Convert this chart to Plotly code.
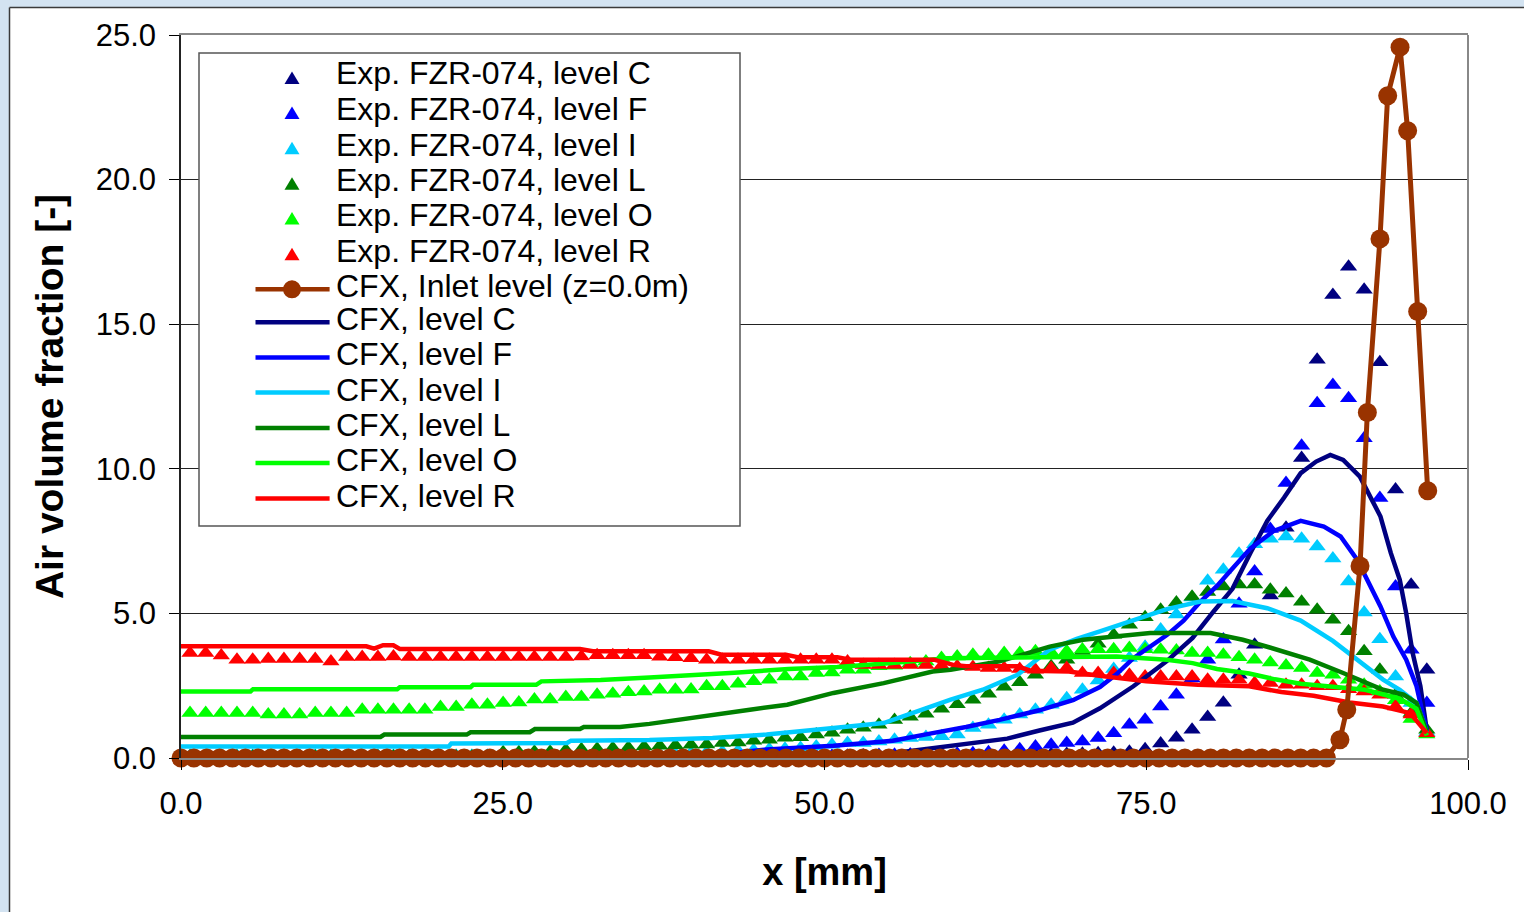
import plotly.graph_objects as go

# ---------------- data ----------------
exp_x = [0.70, 1.92, 3.13, 4.35, 5.57, 6.78, 8.00, 9.22, 10.43, 11.65,
         12.87, 14.08, 15.30, 16.51, 17.73, 18.95, 20.16, 21.38, 22.60, 23.81,
         25.03, 26.25, 27.46, 28.68, 29.90, 31.11, 32.33, 33.55, 34.76, 35.98,
         37.20, 38.41, 39.63, 40.84, 42.06, 43.28, 44.49, 45.71, 46.93, 48.14,
         49.36, 50.58, 51.79, 53.01, 54.23, 55.44, 56.66, 57.88, 59.09, 60.31,
         61.53, 62.74, 63.96, 65.17, 66.39, 67.61, 68.82, 70.04, 71.26, 72.47,
         73.69, 74.91, 76.12, 77.34, 78.56, 79.77, 80.99, 82.21, 83.42, 84.64,
         85.86, 87.07, 88.28, 89.50, 90.72, 91.93, 93.15, 94.37, 95.58, 96.80]

exp_C = [0.02, 0.02, 0.02, 0.02, 0.02, 0.02, 0.02, 0.02, 0.02, 0.02,
         0.02, 0.02, 0.02, 0.02, 0.02, 0.02, 0.02, 0.02, 0.02, 0.02,
         0.02, 0.02, 0.02, 0.02, 0.02, 0.02, 0.02, 0.02, 0.02, 0.02,
         0.03, 0.03, 0.03, 0.03, 0.03, 0.03, 0.03, 0.03, 0.03, 0.03,
         0.05, 0.05, 0.05, 0.06, 0.06, 0.07, 0.08, 0.08, 0.09, 0.10,
         0.10, 0.10, 0.11, 0.12, 0.12, 0.13, 0.14, 0.15, 0.16, 0.18,
         0.22, 0.30, 0.50, 0.70, 0.98, 1.42, 1.91, 2.88, 3.92, 5.62,
         7.96, 10.37, 13.77, 16.01, 16.99, 16.19, 13.68, 9.28, 5.99, 3.05]

exp_F = [0.03, 0.03, 0.03, 0.03, 0.03, 0.03, 0.03, 0.03, 0.03, 0.03,
         0.03, 0.03, 0.03, 0.03, 0.03, 0.03, 0.03, 0.03, 0.03, 0.03,
         0.03, 0.03, 0.03, 0.03, 0.03, 0.03, 0.03, 0.03, 0.03, 0.03,
         0.03, 0.03, 0.03, 0.03, 0.03, 0.03, 0.03, 0.03, 0.03, 0.05,
         0.06, 0.07, 0.08, 0.09, 0.10, 0.11, 0.12, 0.13, 0.14, 0.15,
         0.16, 0.20, 0.25, 0.30, 0.40, 0.46, 0.52, 0.57, 0.69, 0.86,
         1.15, 1.32, 1.78, 2.19, 2.75, 3.40, 4.10, 5.33, 6.45, 7.92,
         9.51, 10.80, 12.27, 12.90, 12.44, 11.06, 8.99, 5.93, 3.74, 1.90]

exp_I = [0.08, 0.08, 0.08, 0.08, 0.08, 0.08, 0.08, 0.08, 0.08, 0.08,
         0.08, 0.08, 0.08, 0.08, 0.08, 0.08, 0.08, 0.08, 0.08, 0.08,
         0.08, 0.08, 0.08, 0.08, 0.08, 0.08, 0.08, 0.08, 0.08, 0.08,
         0.12, 0.15, 0.17, 0.20, 0.22, 0.25, 0.27, 0.30, 0.32, 0.35,
         0.40, 0.46, 0.52, 0.52, 0.57, 0.63, 0.69, 0.73, 0.75, 0.81,
         1.04, 1.15, 1.32, 1.50, 1.67, 1.84, 2.07, 2.36, 2.68, 3.08,
         3.46, 3.85, 4.44, 4.96, 5.55, 6.13, 6.51, 7.06, 7.39, 7.58,
         7.66, 7.58, 7.31, 6.90, 6.10, 5.03, 4.11, 2.82, 1.90, 0.90]

exp_L = [0.05, 0.05, 0.05, 0.05, 0.05, 0.05, 0.05, 0.05, 0.05, 0.05,
         0.05, 0.05, 0.05, 0.05, 0.05, 0.05, 0.05, 0.05, 0.05, 0.05,
         0.20, 0.20, 0.22, 0.22, 0.28, 0.30, 0.32, 0.35, 0.36, 0.40,
         0.42, 0.44, 0.46, 0.47, 0.52, 0.54, 0.60, 0.63, 0.70, 0.72,
         0.81, 0.87, 0.98, 1.05, 1.15, 1.31, 1.43, 1.53, 1.70, 1.86,
         2.01, 2.22, 2.46, 2.62, 2.88, 3.17, 3.40, 3.70, 3.95, 4.26,
         4.61, 4.87, 5.13, 5.38, 5.58, 5.74, 5.93, 6.00, 6.00, 5.82,
         5.69, 5.40, 5.13, 4.78, 4.38, 3.69, 3.05, 2.19, 1.56, 0.98]

exp_O = [1.56, 1.56, 1.56, 1.56, 1.56, 1.50, 1.50, 1.50, 1.56, 1.56,
         1.56, 1.67, 1.67, 1.67, 1.67, 1.67, 1.76, 1.76, 1.84, 1.84,
         1.90, 1.92, 2.02, 2.02, 2.11, 2.11, 2.19, 2.22, 2.27, 2.30,
         2.36, 2.36, 2.37, 2.48, 2.48, 2.57, 2.65, 2.71, 2.82, 2.82,
         2.94, 2.96, 3.05, 3.05, 3.17, 3.19, 3.28, 3.34, 3.46, 3.51,
         3.57, 3.57, 3.63, 3.63, 3.69, 3.66, 3.69, 3.75, 3.76, 3.76,
         3.80, 3.76, 3.74, 3.72, 3.63, 3.63, 3.57, 3.48, 3.40, 3.30,
         3.20, 3.11, 2.94, 2.88, 2.71, 2.53, 2.30, 2.00, 1.35, 0.81]

exp_R = [3.63, 3.63, 3.54, 3.40, 3.40, 3.42, 3.42, 3.42, 3.42, 3.34,
         3.49, 3.49, 3.49, 3.51, 3.49, 3.49, 3.49, 3.49, 3.49, 3.49,
         3.49, 3.49, 3.49, 3.49, 3.49, 3.51, 3.55, 3.55, 3.55, 3.55,
         3.50, 3.48, 3.45, 3.40, 3.40, 3.40, 3.40, 3.40, 3.40, 3.40,
         3.40, 3.40, 3.34, 3.22, 3.22, 3.22, 3.22, 3.22, 3.19, 3.17,
         3.15, 3.11, 3.11, 3.08, 3.05, 3.11, 3.11, 2.94, 2.94, 2.94,
         2.88, 2.82, 2.82, 2.82, 2.82, 2.71, 2.71, 2.71, 2.59, 2.59,
         2.53, 2.53, 2.48, 2.48, 2.38, 2.30, 2.19, 1.78, 1.50, 0.86]

inlet_x = [0.0, 1.0, 2.0, 3.0, 4.0, 5.0, 6.0, 7.0, 8.0, 9.0,
           10.0, 11.0, 12.0, 13.0, 14.0, 15.0, 16.0, 17.0, 18.0, 19.0,
           20.0, 21.0, 22.0, 23.0, 24.0, 25.0, 26.0, 27.0, 28.0, 29.0,
           30.0, 31.0, 32.0, 33.0, 34.0, 35.0, 36.0, 37.0, 38.0, 39.0,
           40.0, 41.0, 42.0, 43.0, 44.0, 45.0, 46.0, 47.0, 48.0, 49.0,
           50.0, 51.0, 52.0, 53.0, 54.0, 55.0, 56.0, 57.0, 58.0, 59.0,
           60.0, 61.0, 62.0, 63.0, 64.0, 65.0, 66.0, 67.0, 68.0, 69.0,
           70.0, 71.0, 72.0, 73.0, 74.0, 75.0, 76.0, 77.0, 78.0, 79.0,
           80.0, 81.0, 82.0, 83.0, 84.0, 85.0, 86.0, 87.0, 88.0, 89.0,
           90.05, 90.58, 91.61, 92.18, 93.16, 93.76, 94.72, 95.31, 96.09, 96.87]
inlet_y = [0.0, 0.0, 0.0, 0.0, 0.0, 0.0, 0.0, 0.0, 0.0, 0.0,
           0.0, 0.0, 0.0, 0.0, 0.0, 0.0, 0.0, 0.0, 0.0, 0.0,
           0.0, 0.0, 0.0, 0.0, 0.0, 0.0, 0.0, 0.0, 0.0, 0.0,
           0.0, 0.0, 0.0, 0.0, 0.0, 0.0, 0.0, 0.0, 0.0, 0.0,
           0.0, 0.0, 0.0, 0.0, 0.0, 0.0, 0.0, 0.0, 0.0, 0.0,
           0.0, 0.0, 0.0, 0.0, 0.0, 0.0, 0.0, 0.0, 0.0, 0.0,
           0.0, 0.0, 0.0, 0.0, 0.0, 0.0, 0.0, 0.0, 0.0, 0.0,
           0.0, 0.0, 0.0, 0.0, 0.0, 0.0, 0.0, 0.0, 0.0, 0.0,
           0.0, 0.0, 0.0, 0.0, 0.0, 0.0, 0.0, 0.0, 0.0, 0.0,
           0.63, 1.67, 6.64, 11.95, 17.95, 22.90, 24.58, 21.69, 15.44, 9.24]

cfx_C_x = [0.0, 50.0, 55.0, 57.7, 61.5, 64.2, 66.7, 69.3, 71.4, 74.0, 76.6, 78.6, 80.2, 81.7,
           83.1, 84.4, 85.7, 87.0, 88.2, 89.3, 90.3, 91.6, 93.2, 94.0, 94.7, 95.2, 95.7, 96.3, 96.8]
cfx_C_y = [0.02, 0.05, 0.15, 0.30, 0.50, 0.67, 0.95, 1.22, 1.72, 2.48, 3.35, 4.15, 5.05, 5.85,
           7.10, 8.20, 9.00, 9.85, 10.25, 10.48, 10.31, 9.73, 8.35, 7.09, 6.16, 5.00, 3.63, 2.48, 0.95]

cfx_F_x = [0.0, 40.0, 43.0, 45.5, 50.7, 55.3, 58.4, 61.0, 63.6, 66.7, 69.3, 71.4, 72.7, 74.0, 76.6,
           77.9, 79.2, 80.5, 81.7, 83.1, 84.9, 87.0, 88.8, 90.1, 91.4, 93.2, 94.2, 95.2, 96.0, 96.8]
cfx_F_y = [0.05, 0.08, 0.18, 0.29, 0.42, 0.60, 0.86, 1.07, 1.32, 1.65, 2.00, 2.45, 2.90, 3.45, 4.25,
           4.75, 5.40, 5.95, 6.55, 7.25, 7.85, 8.20, 8.00, 7.66, 6.85, 5.24, 4.20, 3.40, 2.48, 0.92]

cfx_I_x = [0.0, 20.8, 21.0, 30.0, 30.3, 36.4, 41.3, 45.5, 50.7, 54.6, 57.2, 59.8, 62.3, 65.0, 67.5,
           69.6, 71.4, 74.0, 76.6, 79.2, 81.7, 84.4, 87.0, 89.5, 91.4, 93.4, 94.7, 96.0, 96.8]
cfx_I_y = [0.40, 0.40, 0.50, 0.52, 0.60, 0.62, 0.69, 0.81, 1.04, 1.21, 1.61, 2.02, 2.36, 2.88, 3.75,
           4.12, 4.38, 4.78, 5.15, 5.41, 5.43, 5.18, 4.75, 4.05, 3.40, 2.71, 2.36, 1.90, 0.88]

cfx_L_x = [0.0, 15.5, 15.8, 22.2, 22.5, 27.1, 27.5, 31.0, 31.3, 34.1, 36.4, 40.3, 44.2, 47.1, 50.7,
           54.6, 58.4, 59.8, 63.6, 67.5, 70.1, 71.4, 75.3, 80.0, 82.5, 84.6, 87.7, 90.3, 92.1, 93.4,
           95.0, 96.0, 96.8]
cfx_L_y = [0.73, 0.73, 0.81, 0.81, 0.89, 0.89, 1.00, 1.00, 1.07, 1.07, 1.18, 1.44, 1.67, 1.84, 2.25,
           2.59, 2.99, 3.05, 3.34, 3.85, 4.09, 4.15, 4.32, 4.32, 4.09, 3.82, 3.40, 2.94, 2.59, 2.36,
           2.19, 1.90, 0.90]

cfx_O_x = [0.0, 5.4, 5.6, 16.8, 17.0, 22.5, 22.7, 27.6, 28.0, 32.6, 36.4, 39.5, 43.0, 47.2, 51.0,
           55.0, 59.5, 72.7, 76.6, 78.6, 80.5, 83.0, 85.0, 87.0, 89.5, 92.0, 94.7, 96.0, 96.8]
cfx_O_y = [2.30, 2.30, 2.38, 2.38, 2.45, 2.45, 2.53, 2.53, 2.65, 2.70, 2.78, 2.85, 2.95, 3.08, 3.15,
           3.28, 3.45, 3.51, 3.40, 3.28, 3.08, 2.92, 2.72, 2.57, 2.45, 2.36, 2.05, 1.70, 0.78]

cfx_R_x = [0.0, 14.4, 15.0, 15.7, 16.5, 17.0, 31.0, 32.0, 41.0, 42.0, 47.0, 48.0, 51.0, 52.0, 58.5,
           60.0, 61.0, 65.0, 66.0, 69.0, 71.2, 75.0, 79.0, 83.0, 85.5, 88.0, 90.8, 93.4, 95.5, 96.8]
cfx_R_y = [3.86, 3.86, 3.78, 3.90, 3.90, 3.77, 3.77, 3.69, 3.69, 3.57, 3.57, 3.48, 3.48, 3.40, 3.40,
           3.22, 3.17, 3.17, 3.02, 2.99, 2.85, 2.65, 2.53, 2.48, 2.28, 2.15, 1.92, 1.78, 1.55, 0.86]

x_ticks = [0, 25, 50, 75, 100]
y_ticks = [0, 5, 10, 15, 20, 25]

legend_labels = ["Exp. FZR-074, level C", "Exp. FZR-074, level F", "Exp. FZR-074, level I",
                 "Exp. FZR-074, level L", "Exp. FZR-074, level O", "Exp. FZR-074, level R",
                 "CFX, Inlet level (z=0.0m)", "CFX, level C", "CFX, level F", "CFX, level I",
                 "CFX, level L", "CFX, level O", "CFX, level R"]

# ---------------- styles ----------------
NAVY, BLUE, SKY, DGREEN, LGREEN, RED, BROWN = ("#000080", "#0000FF", "#00CCFF", "#008000",
                                               "#00FF00", "#FF0000", "#993300")
FONT = "Liberation Sans, Arial, Helvetica, sans-serif"

W, H = 1524, 912
PL, PR, PT, PB = 181, 1468, 35, 758   # plot area in pixels


def pxx(p):
    return (p - PL) / (PR - PL)


def pxy(p):
    return (PB - p) / (PB - PT)


fig = go.Figure()

exp_series = [(exp_C, NAVY), (exp_F, BLUE), (exp_I, SKY), (exp_L, DGREEN), (exp_O, LGREEN), (exp_R, RED)]
for (ys, col), name in zip(exp_series, legend_labels[:6]):
    fig.add_trace(go.Scatter(x=exp_x, y=ys, mode="markers", name=name,
                             marker=dict(symbol="triangle-up", size=15, color=col, line=dict(width=0))))

cfx_series = [(cfx_C_x, cfx_C_y, NAVY), (cfx_F_x, cfx_F_y, BLUE), (cfx_I_x, cfx_I_y, SKY),
              (cfx_L_x, cfx_L_y, DGREEN), (cfx_O_x, cfx_O_y, LGREEN), (cfx_R_x, cfx_R_y, RED)]
for (xs, ys, col), name in zip(cfx_series, legend_labels[7:]):
    fig.add_trace(go.Scatter(x=xs, y=ys, mode="lines", name=name, line=dict(color=col, width=4.5)))

fig.add_trace(go.Scatter(x=inlet_x, y=inlet_y, mode="lines+markers", name=legend_labels[6],
                         line=dict(color=BROWN, width=5),
                         marker=dict(symbol="circle", size=19, color=BROWN), cliponaxis=False))

shapes = []
# window frame strips (outside the plot)
BG = "#d3e3f1"
shapes.append(dict(type="rect", xref="paper", yref="paper", x0=pxx(0), x1=pxx(W), y0=pxy(7), y1=pxy(0),
                   fillcolor=BG, line=dict(width=0), layer="below"))
shapes.append(dict(type="rect", xref="paper", yref="paper", x0=pxx(0), x1=pxx(9), y0=pxy(H), y1=pxy(0),
                   fillcolor=BG, line=dict(width=0), layer="below"))
shapes.append(dict(type="line", xref="paper", yref="paper", x0=pxx(9.5), x1=pxx(W), y0=pxy(7.5), y1=pxy(7.5),
                   line=dict(color="#3a3a3a", width=1.5)))
shapes.append(dict(type="line", xref="paper", yref="paper", x0=pxx(9.5), x1=pxx(9.5), y0=pxy(H), y1=pxy(7.5),
                   line=dict(color="#3a3a3a", width=1.5)))
# right plot border
shapes.append(dict(type="line", xref="paper", yref="paper", x0=1, x1=1, y0=0, y1=1,
                   line=dict(color="#888888", width=2)))

# manual legend (Excel style)
shapes.append(dict(type="rect", xref="paper", yref="paper", x0=pxx(199), x1=pxx(740), y0=pxy(526), y1=pxy(53),
                   fillcolor="white", line=dict(color="#555555", width=1.5), layer="above"))
text_y = [73.3, 109.5, 144.6, 179.8, 215.2, 251.4, 285.8, 318.5, 354.0, 389.8, 424.6, 460.4, 495.9]
sym_y = [78.5, 113.6, 148.8, 184.2, 219.0, 254.8, 289.3, 322.3, 357.4, 392.6, 428.0, 463.0, 498.6]
leg_cols = [NAVY, BLUE, SKY, DGREEN, LGREEN, RED, BROWN, NAVY, BLUE, SKY, DGREEN, LGREEN, RED]
annotations = []
for i, (lab, col) in enumerate(zip(legend_labels, leg_cols)):
    sy = sym_y[i]
    if i < 6:
        shapes.append(dict(type="path", xref="paper", yref="paper", xsizemode="pixel", ysizemode="pixel",
                           xanchor=pxx(292), yanchor=pxy(sy), path="M -7.5 -5.5 L 7.5 -5.5 L 0 7 Z",
                           fillcolor=col, line=dict(width=0), layer="above"))
    else:
        shapes.append(dict(type="line", xref="paper", yref="paper", x0=pxx(255.5), x1=pxx(329.6),
                           y0=pxy(sy), y1=pxy(sy), line=dict(color=col, width=4.5), layer="above"))
        if i == 6:
            shapes.append(dict(type="circle", xref="paper", yref="paper", xsizemode="pixel",
                               ysizemode="pixel", xanchor=pxx(292), yanchor=pxy(sy),
                               x0=-9, x1=9, y0=-9, y1=9, fillcolor=col, line=dict(width=0),
                               layer="above"))
    annotations.append(dict(text=lab, xref="paper", yref="paper", x=pxx(334), y=pxy(text_y[i]),
                            xanchor="left", yanchor="middle", showarrow=False,
                            font=dict(family=FONT, size=32, color="black")))

fig.update_layout(
    width=W, height=H,
    margin=dict(l=PL, r=W - PR, t=PT, b=H - PB),
    paper_bgcolor="white", plot_bgcolor="white",
    showlegend=False,
    font=dict(family=FONT, color="black"),
    shapes=shapes, annotations=annotations,
    xaxis=dict(range=[0, 100], tickvals=x_ticks, tickformat=".1f", ticks="outside", ticklen=10,
               tickcolor="black", tickwidth=1, showgrid=False, zeroline=False,
               showline=True, linecolor="#888888", linewidth=2, mirror=True,
               ticklabelstandoff=7,
               tickfont=dict(family=FONT, size=31, color="black"),
               title=dict(text="<b>x [mm]</b>", font=dict(family=FONT, size=38, color="black"), standoff=38)),
    yaxis=dict(range=[0, 25], tickvals=y_ticks, tickformat=".1f", ticks="outside", ticklen=10,
               tickcolor="black", tickwidth=1, showgrid=True, gridcolor="#222222", gridwidth=1,
               zeroline=False, showline=True, linecolor="#222222", linewidth=1.5,
               ticklabelstandoff=7,
               tickfont=dict(family=FONT, size=31, color="black"),
               title=dict(text="<b>Air volume fraction [-]</b>", font=dict(family=FONT, size=39, color="black"),
                          standoff=20)),
)

fig.write_html("out.html")
